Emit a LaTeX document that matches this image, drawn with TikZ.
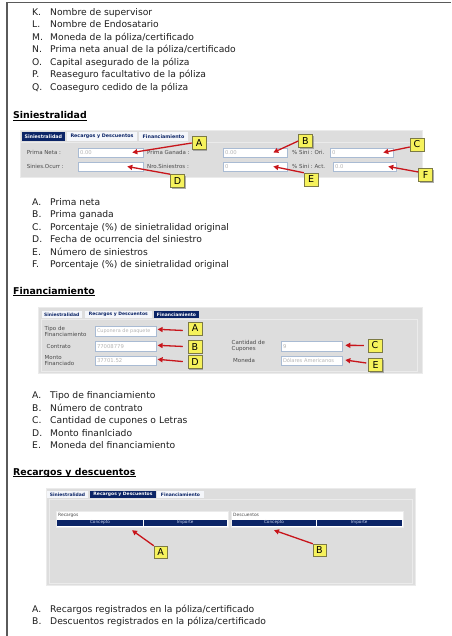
\documentclass[tikz,border=0pt]{standalone}
\usepackage{fontspec}
\setmainfont{DejaVu Sans}
\usetikzlibrary{arrows.meta,shadows}

\definecolor{navy}{HTML}{0B2466}
\definecolor{panelgray}{HTML}{DDDDDD}
\definecolor{panelrim}{HTML}{EBEBEB}
\definecolor{tabpale}{HTML}{F4F6FA}
\definecolor{fieldline}{HTML}{A9BBD3}
\definecolor{fieldtxt}{HTML}{B5B5B5}
\definecolor{labeltxt}{HTML}{4A4A4A}
\definecolor{calloutfill}{HTML}{F6F25C}
\definecolor{calloutline}{HTML}{7C7A45}
\definecolor{arrowred}{HTML}{C8151B}
\definecolor{bodytxt}{HTML}{1E1E1E}
\definecolor{framegray}{HTML}{5A5A5A}
\definecolor{headtxt}{HTML}{C9D4EE}

\newcommand\tbfont{\fontsize{4.5}{5}\bfseries\selectfont}
\newcommand\tbfontl{\fontsize{4.8}{5}\bfseries\selectfont}
\newcommand\lblfont{\fontsize{5.5}{6.3}\selectfont}
\newcommand\fldfont{\fontsize{5.3}{6}\selectfont}

% one lettered entry of a legend list: name, baseline y, letter, text
\newcommand\lstitem[4]{%
  \node[itemlet] (#1l) at (32,#2) {#3.};
  \node[itemtxt] (#1t) at (50,#2) {#4};}

\begin{document}
\begin{tikzpicture}[x=1pt,y=-1pt,
  itemlet/.style={anchor=base west, inner sep=0, font=\fontsize{9.2}{10}\selectfont, text=bodytxt},
  itemtxt/.style={itemlet},
  hd/.style={anchor=base west, inner sep=0, font=\fontsize{9.4}{11}\bfseries\selectfont, text=black},
  uline/.style={line width=0.8pt},
  rim/.style={draw=panelrim, line width=0.6pt},
  tabon/.style={fill=navy, text=white, font=\tbfont, inner sep=0},
  taboff/.style={fill=tabpale, text=navy, font=\tbfont, inner sep=0},
  lbl/.style={anchor=west, inner sep=0, font=\lblfont, text=labeltxt, align=left},
  field/.style={draw=fieldline, fill=white, line width=0.6pt, inner xsep=2pt, inner ysep=0pt,
                font=\fldfont, text=fieldtxt, align=left},
  callout/.style={fill=calloutfill, draw=calloutline, line width=0.5pt, inner sep=0,
                  minimum width=14, minimum height=13, font=\fontsize{9.5}{10}\selectfont,
                  drop shadow={shadow xshift=1.2pt, shadow yshift=-1.2pt, fill=black!40, opacity=0.8}},
  redarrow/.style={draw=arrowred, line width=1.3pt, -{Triangle[length=5pt,width=5pt]}},
  tblbox/.style={fill=white, draw=panelrim, line width=0.4pt},
  hcell/.style={fill=navy, text=headtxt, font=\fontsize{4.2}{5}\selectfont, inner sep=0, minimum height=6},
  tbllbl/.style={anchor=west, inner sep=0, font=\fontsize{4.4}{5}\selectfont, text=labeltxt}
]
\useasboundingbox (0,0) rectangle (451,636);
\fill[white] (0,0) rectangle (451,636);

% page frame
\draw[framegray, line width=1.3pt] (7,636) -- (7,2.6) -- (451,2.6);

% ---------- first legend list ----------
\lstitem{k}{15.3}{K}{Nombre de supervisor}
\lstitem{l}{27.8}{L}{Nombre de Endosatario}
\lstitem{m}{40.3}{M}{Moneda de la póliza/certificado}
\lstitem{n}{52.8}{N}{Prima neta anual de la póliza/certificado}
\lstitem{o}{65.3}{O}{Capital asegurado de la póliza}
\lstitem{p}{77.8}{P}{Reaseguro facultativo de la póliza}
\lstitem{q}{90.3}{Q}{Coaseguro cedido de la póliza}

% ---------- Siniestralidad ----------
\node[hd] (h1) at (13,118.5) {Siniestralidad};
\draw[uline] ([yshift=-1.6pt]h1.base west) -- ([yshift=-1.6pt]h1.base east);

\fill[panelgray] (20,130.5) rectangle (422,177);
\draw[rim] (20,130.5) rectangle (422,177);
\draw[rim] (21,142.5) -- (421,142.5);
\node[tabon, font=\tbfontl, minimum width=43.3, minimum height=9] (s1tab1) at (43.35,136.5) {Siniestralidad};
\node[taboff, font=\tbfontl, minimum width=70, minimum height=9] (s1tab2) at (102,136.5) {Recargos y Descuentos};
\node[taboff, font=\tbfontl, minimum width=49, minimum height=9] (s1tab3) at (163.5,136.5) {Financiamiento};

\node[lbl] (s1la) at (26.7,152.5) {Prima Neta :};
\node[lbl] (s1lb) at (147,152.5) {Prima Ganada :};
\node[lbl] (s1lc) at (292,152.5) {\% Sini :\ Ori.};
\node[lbl] (s1ld) at (26.7,166.5) {Sinies.Ocurr :};
\node[lbl] (s1le) at (147,166.5) {Nro.Siniestros :};
\node[lbl] (s1lf) at (292,166.5) {\% Sini :\ Act.};

\node[field, text width=61, minimum height=9] (fA) at (110.5,152.5) {0.00};
\node[field, text width=60, minimum height=9] (fB) at (255,152.5) {0.00};
\node[field, text width=59, minimum height=9] (fC) at (361.5,152.5) {0};
\node[field, text width=61, minimum height=9] (fD) at (110.5,166.5) {};
\node[field, text width=60, minimum height=9] (fE) at (255,166.5) {0};
\node[field, text width=59, minimum height=9] (fF) at (364.5,166.5) {0.0};

\node[callout] (cA) at (199,143) {A};
\node[callout] (cB) at (305.5,141) {B};
\node[callout] (cC) at (417,144.5) {C};
\node[callout] (cD) at (177.5,181) {D};
\node[callout] (cE) at (311,179.5) {E};
\node[callout] (cF) at (425.5,175) {F};

\draw[redarrow] (cA.west) -- ([xshift=-11pt]fA.east);
\draw[redarrow] (cB.west) -- ([xshift=-14pt]fB.east);
\draw[redarrow] ([yshift=-2.5pt]cC.west) -- ([xshift=-10pt]fC.east);
\draw[redarrow] (cD.north west) -- ([xshift=-16pt]fD.east);
\draw[redarrow] (cE.north west) -- ([xshift=-14pt]fE.east);
\draw[redarrow] ([yshift=3pt]cF.west) -- ([xshift=-8pt]fF.east);

\lstitem{sA}{205.3}{A}{Prima neta}
\lstitem{sB}{217.8}{B}{Prima ganada}
\lstitem{sC}{230.3}{C}{Porcentaje (\%) de sinietralidad original}
\lstitem{sD}{242.8}{D}{Fecha de ocurrencia del siniestro}
\lstitem{sE}{255.3}{E}{Número de siniestros}
\lstitem{sF}{267.8}{F}{Porcentaje (\%) de sinietralidad original}

% ---------- Financiamiento ----------
\node[hd] (h2) at (13,294) {Financiamiento};
\draw[uline] ([yshift=-1.6pt]h2.base west) -- ([yshift=-1.6pt]h2.base east);

\fill[panelgray] (38,307) rectangle (422,373);
\draw[rim] (38,307) rectangle (422,373);
\draw[rim] (41,319.5) -- (417,319.5) -- (417,371) -- (41,371) -- cycle;
\node[taboff, minimum width=40, minimum height=7.6] (f2tab1) at (61.7,314.5) {Siniestralidad};
\node[taboff, minimum width=66.7, minimum height=7.6] (f2tab2) at (118.35,314.5) {Recargos y Descuentos};
\node[tabon, minimum width=45, minimum height=7.6] (f2tab3) at (176.5,314.5) {Financiamiento};

\node[lbl] (f2la) at (44.5,331.2) {Tipo de\\Financiamiento};
\node[lbl] (f2lb) at (46.5,346.2) {Contrato};
\node[lbl] (f2ld) at (44.5,360.3) {Monto\\Financiado};
\node[lbl] (f2lc) at (231.5,346) {Cantidad de\\Cupones};
\node[lbl] (f2le) at (233,360.7) {Moneda};

\node[field, text width=57, minimum height=9.3, font=\fontsize{4.9}{5.5}\selectfont] (f2A) at (125.5,331.3) {Cuponera de paquete};
\node[field, text width=57, minimum height=9.3] (f2B) at (125.5,346.2) {77008779};
\node[field, text width=57, minimum height=9.3] (f2D) at (125.5,360.5) {37701.52};
\node[field, text width=57, minimum height=9.3] (f2C) at (311.5,346.2) {9};
\node[field, text width=57, minimum height=9.3, font=\fontsize{5.1}{5.5}\selectfont] (f2E) at (311.5,360.5) {Dólares Americanos};

\node[callout] (c2A) at (195,328.3) {A};
\node[callout] (c2B) at (195,346.7) {B};
\node[callout] (c2D) at (195,362) {D};
\node[callout] (c2C) at (375,345.5) {C};
\node[callout] (c2E) at (375.5,365) {E};

\draw[redarrow, shorten <=5pt] ([yshift=-2.4pt]c2A.west) -- ([xshift=1.3pt,yshift=2pt]f2A.east);
\draw[redarrow, shorten <=5pt] (c2B.west) -- ([xshift=1.3pt,yshift=0.9pt]f2B.east);
\draw[redarrow, shorten <=5pt] (c2D.west) -- ([xshift=1.3pt,yshift=1.2pt]f2D.east);
\draw[redarrow, shorten <=4pt] (c2C.west) -- ([xshift=3pt,yshift=0.9pt]f2C.east);
\draw[redarrow, shorten <=2pt] ([yshift=1.7pt]c2E.west) -- ([xshift=3pt,yshift=0.5pt]f2E.east);

\lstitem{fA}{398.8}{A}{Tipo de financiamiento}
\lstitem{fB}{411.3}{B}{Número de contrato}
\lstitem{fC}{423.8}{C}{Cantidad de cupones o Letras}
\lstitem{fD}{436.3}{D}{Monto finanlciado}
\lstitem{fE}{448.8}{E}{Moneda del financiamiento}

% ---------- Recargos y descuentos ----------
\node[hd] (h3) at (13,475) {Recargos y descuentos};
\draw[uline] ([yshift=-1.6pt]h3.base west) -- ([yshift=-1.6pt]h3.base east);

\fill[panelgray] (46,488) rectangle (415,585);
\draw[rim] (46,488) rectangle (415,585);
\draw[rim] (49,499) -- (412,499) -- (412,583) -- (49,583) -- cycle;
\node[taboff, minimum width=41.6, minimum height=7.6] (r3tab1) at (67.5,494.5) {Siniestralidad};
\node[tabon, minimum width=66, minimum height=7.6] (r3tab2) at (123,494.5) {Recargos y Descuentos};
\node[taboff, minimum width=47, minimum height=7.6] (r3tab3) at (180.5,494.5) {Financiamiento};

\fill[tblbox] (56,511.5) rectangle (228,527);
\node[tbllbl] (rlbl) at (58,515) {Recargos};
\node[hcell, minimum width=86] (rc) at (100,522.5) {Concepto};
\node[hcell, minimum width=83.5] (ri) at (185.25,522.5) {Importe};

\fill[tblbox] (231,511.5) rectangle (403,527);
\node[tbllbl] (dlbl) at (233,515) {Descuentos};
\node[hcell, minimum width=84] (dc) at (274,522.5) {Concepto};
\node[hcell, minimum width=85.5] (di) at (359.25,522.5) {Importe};

\node[callout, minimum width=13, minimum height=12] (c3A) at (160.5,552) {A};
\node[callout, minimum width=13, minimum height=12] (c3B) at (319.5,550) {B};

\draw[redarrow] (c3A.north west) -- ([xshift=32pt,yshift=-4.5pt]rc.south);
\draw[redarrow] (c3B.north west) -- ([yshift=-4.5pt]dc.south);

\lstitem{rA}{612.3}{A}{Recargos registrados en la póliza/certificado}
\lstitem{rB}{624.8}{B}{Descuentos registrados en la póliza/certificado}
\end{tikzpicture}
\end{document}
